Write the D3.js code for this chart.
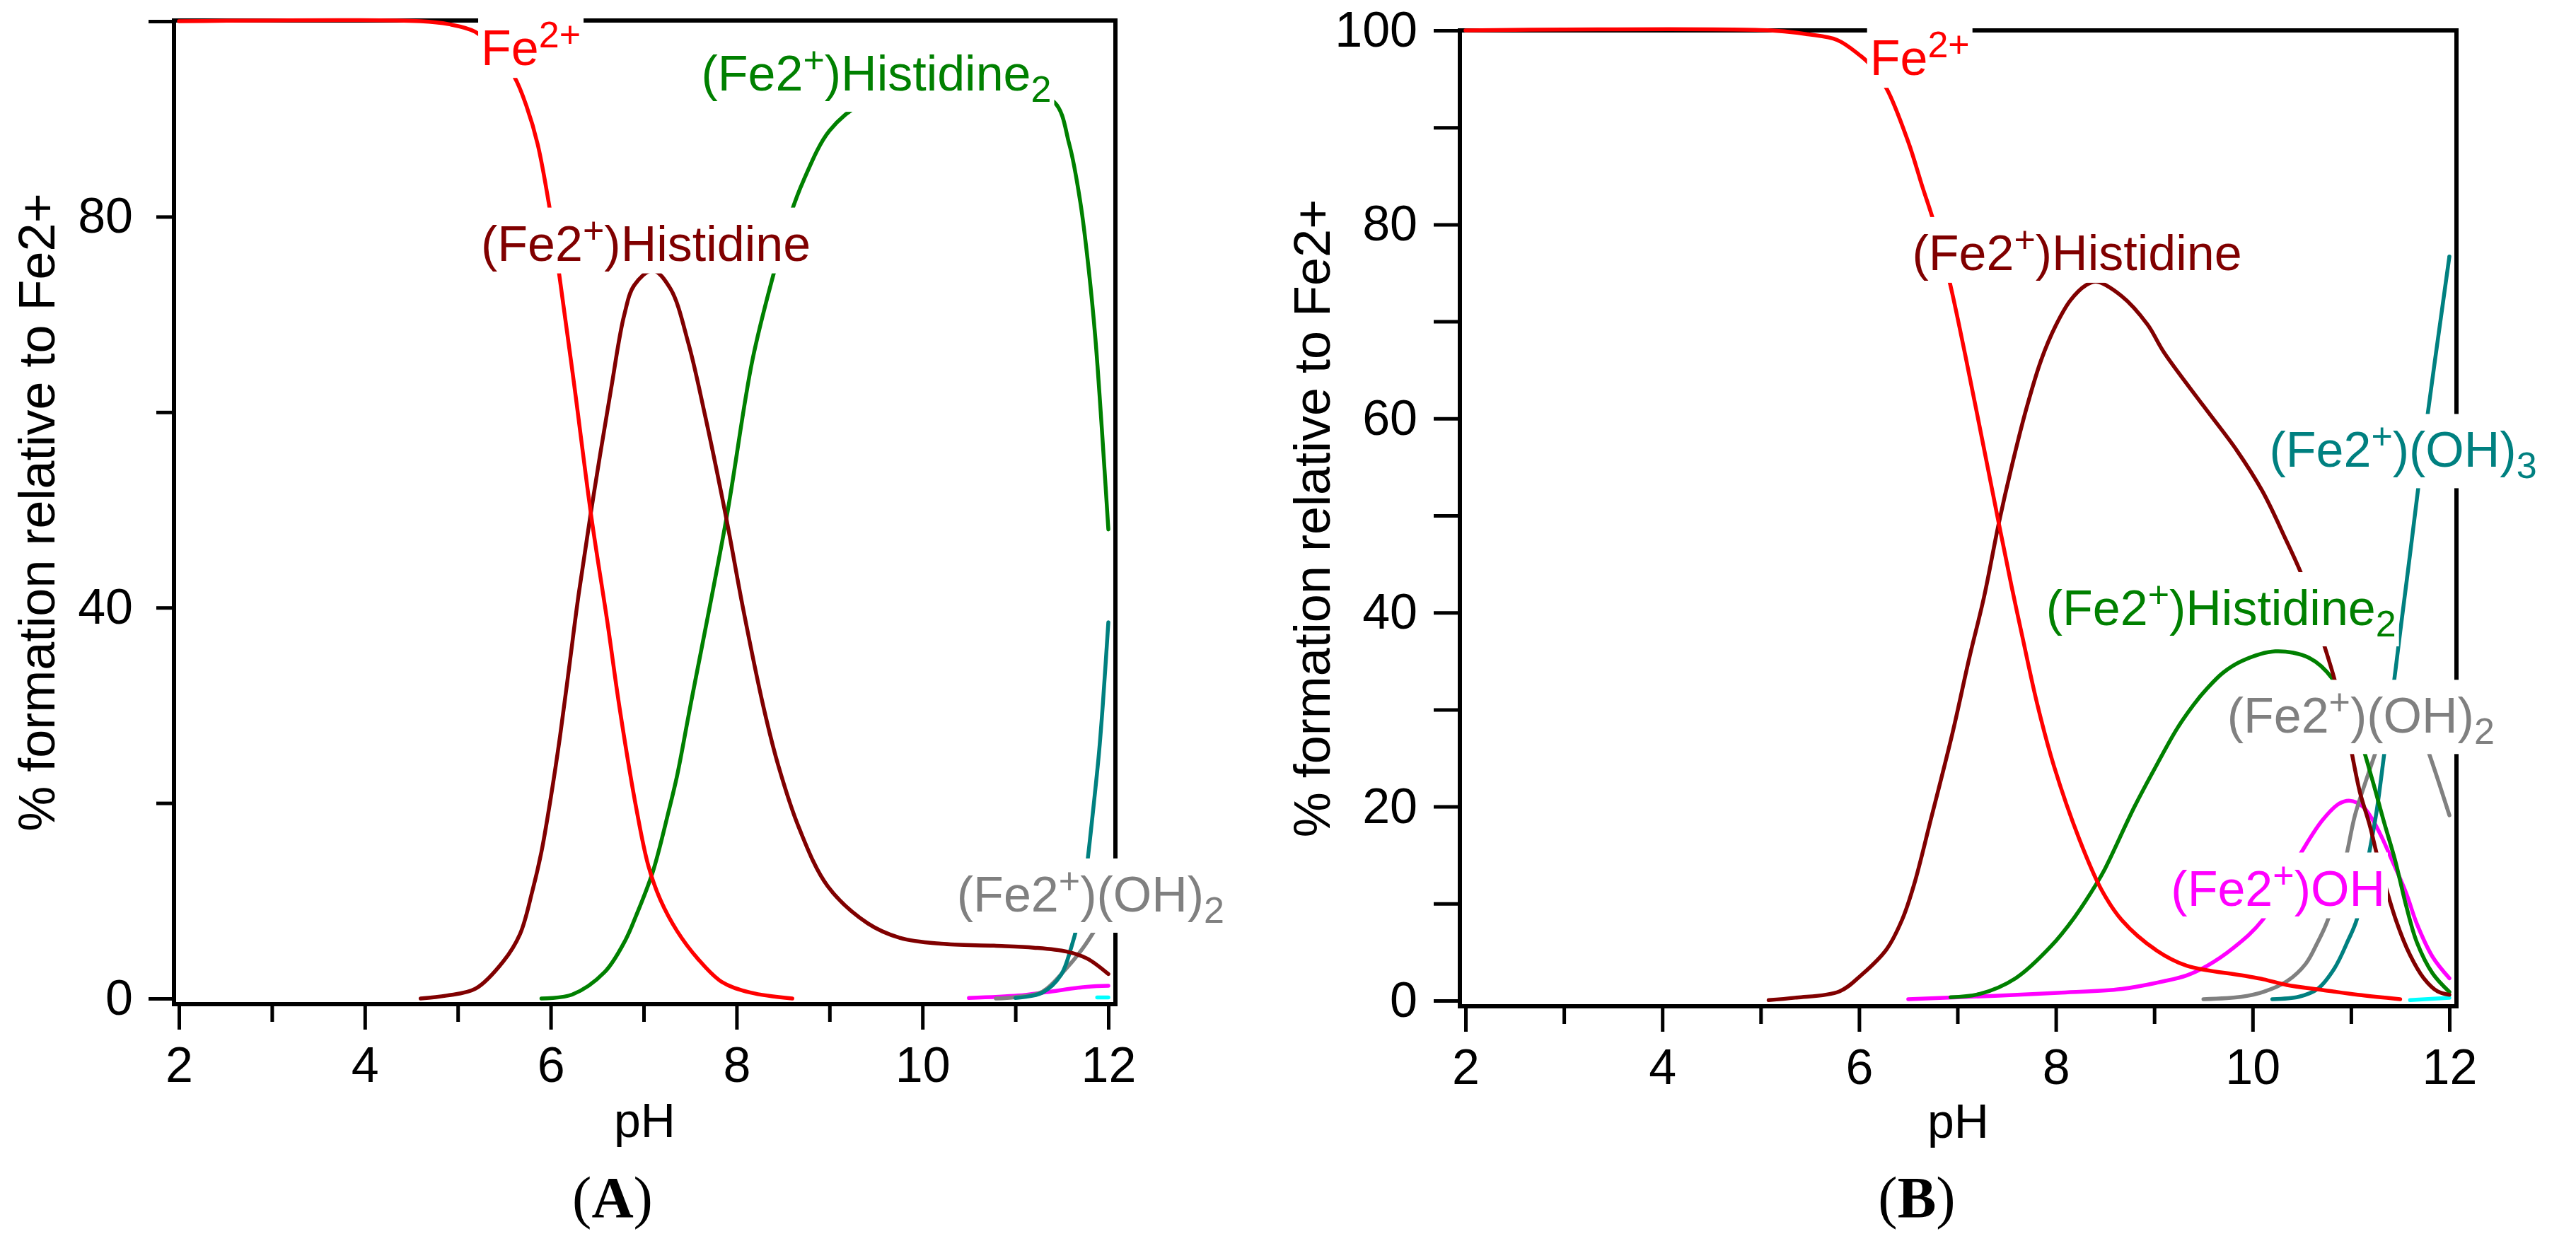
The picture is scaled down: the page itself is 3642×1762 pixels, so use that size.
<!DOCTYPE html>
<html>
<head>
<meta charset="utf-8">
<script src="https://cdn.jsdelivr.net/npm/d3@7"></script>
<style>
  body { margin: 0; background: #ffffff; }
</style>
</head>
<body>
<div id="chart"></div>
<script>
// Colours (Igor-style species colours)
var red = "#FF0000";
var maroon = "#800000";
var green = "#008000";
var teal = "#008080";
var grey = "#808080";
var magenta = "#FF00FF";
var cyan = "#00FFFF";

// ---- Data, panel A : [pH, % formation] ----
const feA = [[2,100],[4.6,100],[4.9,99.7],[5.19,98.9],[5.4,97.0],[5.61,94.3],[5.74,91.3],[5.86,87.4],[6.0,80.2],
  [6.09,74.2],[6.25,63],[6.44,49.1],[6.61,38.5],[6.74,29.8],[6.92,19.5],[7.05,13.6],[7.18,10.1],[7.36,6.9],
  [7.58,4.1],[7.84,1.7],[8.15,0.6],[8.6,0]];
const hisA = [[4.6,0],[4.88,0.3],[5.19,1.0],[5.49,3.8],[5.67,6.6],[5.8,10.9],[5.9,15],[6.0,20.5],[6.1,26.8],
  [6.2,34],[6.3,41.3],[6.46,51.4],[6.65,62.4],[6.79,69.9],[6.9,73],[7.1,74.5],[7.29,72.6],[7.48,67.1],[7.66,59.7],
  [7.89,49.1],[8.07,39.9],[8.29,29.8],[8.45,23.8],[8.67,17.5],[8.98,11.5],[9.41,7.7],[9.76,6.2],[10.2,5.6],
  [10.77,5.4],[11.2,5.2],[11.55,4.8],[11.77,4.1],[12.0,2.5]];
const his2A = [[5.9,0],[6.23,0.4],[6.58,2.7],[6.8,5.9],[6.92,8.5],[7.1,13],[7.27,19.2],[7.36,22.8],[7.5,29.8],
  [7.89,49.1],[8.17,65.3],[8.4,74.2],[8.58,80.2],[8.72,83.7],[9.0,88.8],[9.37,91.7],[9.8,92.8],[10.4,93.2],
  [11.0,93],[11.42,91.7],[11.58,87.4],[11.7,81.4],[11.79,74.5],[11.86,67.6],[11.93,58.3],[12.0,48]];
const oh3A = [[11.0,0.05],[11.29,0.6],[11.49,2.4],[11.6,5.2],[11.71,9.4],[11.77,13.6],[11.85,20.5],[11.9,25.2],
  [11.94,30],[12.0,38.5]];
const oh2A = [[10.79,0],[11.0,0.15],[11.29,0.7],[11.55,3.1],[11.73,5.2],[11.9,7.7],[12.0,9.3]];
const ohA = [[10.5,0.05],[11.03,0.3],[11.33,0.65],[11.77,1.2],[12.0,1.3]];
const cyanA = [[11.88,0.1],[12.0,0.1]];

// ---- Data, panel B ----
const feB = [[2,100],[5.1,100],[5.48,99.6],[5.78,99.0],[6.0,97.5],[6.1,96.6],[6.28,94.0],[6.5,88.5],[6.64,84.0],
  [6.77,79.9],[6.92,74.1],[7.08,66.5],[7.25,57.9],[7.42,49.2],[7.55,42.7],[7.66,37.5],[7.81,30.6],[7.98,24.2],
  [8.24,16.6],[8.46,11.5],[8.67,8.3],[9.02,5.2],[9.33,3.6],[9.89,2.6],[10.11,2.2],[10.35,1.6],[10.71,1.1],
  [11.07,0.6],[11.5,0.15]];
const hisB = [[5.08,0.05],[5.35,0.3],[5.8,0.95],[6.03,2.7],[6.28,5.3],[6.44,8.4],[6.56,12.0],[6.73,18.7],[6.95,27.6],
  [7.12,35.3],[7.27,41.6],[7.42,49.2],[7.55,55.0],[7.7,61.0],[7.85,66.0],[8.0,69.6],[8.15,72.2],[8.3,73.7],
  [8.41,74.1],[8.67,72.6],[8.93,69.7],[9.1,66.8],[9.5,61.3],[9.84,56.7],[10.1,52.5],[10.32,47.9],[10.53,43.1],
  [10.71,37.2],[10.83,33.2],[10.96,27.9],[11.09,21.5],[11.19,18.1],[11.28,14.4],[11.46,8.2],[11.6,4.7],
  [11.74,2.3],[11.88,0.95],[12.0,0.6]];
const his2B = [[6.93,0.35],[7.23,0.7],[7.59,2.3],[7.95,5.6],[8.19,8.6],[8.41,12.0],[8.5,13.6],[8.8,20.0],[9.02,24.2],
  [9.23,28.0],[9.4,30.5],[9.54,32.2],[9.7,33.8],[9.89,35.0],[10.23,36.0],[10.58,35.3],[10.81,33.2],[11.06,27.9],
  [11.21,23.0],[11.33,18.6],[11.45,14.4],[11.56,9.8],[11.67,6.0],[11.83,2.8],[12.0,0.9]];
const oh3B = [[10.2,0.15],[10.47,0.4],[10.66,1.2],[10.83,3.3],[10.97,6.2],[11.06,8.4],[11.17,14.4],[11.26,19.5],
  [11.35,26.4],[11.43,32.3],[11.5,38],[11.6,46],[11.74,57.5],[12.0,76.7]];
const oh2B = [[9.5,0.15],[9.89,0.4],[10.11,0.9],[10.35,2.0],[10.54,3.8],[10.66,6.0],[10.76,8.2],[10.94,14.4],
  [11.04,19.1],[11.17,23.2],[11.28,26.4],[11.4,29.3],[11.52,30.3],[11.64,29.3],[11.76,26.4],[12.0,19.1]];
const ohB = [[6.5,0.15],[7.38,0.5],[8.02,0.8],[8.67,1.2],[9.1,2.0],[9.33,2.6],[9.54,3.6],[9.8,5.4],[10.1,8.3],
  [10.49,15.2],[10.71,18.6],[10.88,20.3],[10.99,20.6],[11.12,20.0],[11.21,18.8],[11.31,16.9],[11.42,14.4],
  [11.56,11.1],[11.67,7.9],[11.83,4.5],[12.0,2.3]];
const cyanB = [[11.6,0.05],[12.0,0.3]];

// tick values / labels
const xTicks = [2,3,4,5,6,7,8,9,10,11,12];
const xTickLabels = [2,4,6,8,10,12];
const yTicksA = [0,20,40,60,80,100];
const yTickLabelsA = [0,40,80];
const yTicksB = [0,10,20,30,40,50,60,70,80,90,100];
const yTickLabelsB = [0,20,40,60,80,100];

// species labels: [text, "sup"/"sub"/""] pieces
const lblFe = [["Fe",""],["2+","sup"]];
const lblHis = [["(Fe2",""],["+","sup"],[")Histidine",""]];
const lblHis2 = [["(Fe2",""],["+","sup"],[")Histidine",""],["2","sub"]];
const lblOH2 = [["(Fe2",""],["+","sup"],[")(OH)",""],["2","sub"]];
const lblOH3 = [["(Fe2",""],["+","sup"],[")(OH)",""],["3","sub"]];
const lblOH = [["(Fe2",""],["+","sup"],[")OH",""]];

const sansFont = "'Liberation Sans', Arial, sans-serif";
const serifFont = "'Liberation Serif', 'Times New Roman', serif";

const svg = d3.select("#chart")
    .append("svg")
    .attr("width", 3642)
    .attr("height", 1762)
    .style("background", "#ffffff");

const panels = [
  {
    frame: { l: 246, t: 29, r: 1577, b: 1420 },
    xRange: [253, 1567], yRange: [1412, 30],
    yTicks: yTicksA, yLabels: yTickLabelsA, yTickLen: 25, yPad: 33, longEnds: true,
    xLabelY: 1608, tagX: 866, tagY: 1721, tag: "A", titleX: 77,
    series: [
      { d: cyanA, c: cyan }, { d: ohA, c: magenta }, { d: oh2A, c: grey }, { d: oh3A, c: teal },
      { d: his2A, c: green }, { d: hisA, c: maroon }, { d: feA, c: red }
    ],
    labels: [
      { parts: lblFe, c: red, ph: 5.25, v: 95.5 },
      { parts: lblHis, c: maroon, ph: 5.25, v: 75.5 },
      { parts: lblHis2, c: green, ph: 7.62, v: 92.9 },
      { parts: lblOH2, c: grey, ph: 10.37, v: 8.9 }
    ]
  },
  {
    frame: { l: 2064, t: 43, r: 3473, b: 1423 },
    xRange: [2072, 3463], yRange: [1415, 43],
    yTicks: yTicksB, yLabels: yTickLabelsB, yTickLen: 37, yPad: 23, longEnds: false,
    xLabelY: 1609, tagX: 2710, tagY: 1721, tag: "B", titleX: 1880,
    series: [
      { d: cyanB, c: cyan }, { d: ohB, c: magenta }, { d: oh2B, c: grey }, { d: oh3B, c: teal },
      { d: his2B, c: green }, { d: hisB, c: maroon }, { d: feB, c: red }
    ],
    labels: [
      { parts: lblFe, c: red, ph: 6.11, v: 95.4 },
      { parts: lblHis, c: maroon, ph: 6.54, v: 75.3 },
      { parts: lblOH3, c: teal, ph: 10.17, v: 55.0 },
      { parts: lblHis2, c: green, ph: 7.9, v: 38.7 },
      { parts: lblOH2, c: grey, ph: 9.74, v: 27.6 },
      { parts: lblOH, c: magenta, ph: 9.17, v: 9.8 }
    ]
  }
];

panels.forEach(drawPanel);

function drawPanel(p) {
  const g = svg.append("g");
  const f = p.frame;
  const x = d3.scaleLinear().domain([2, 12]).range(p.xRange);
  const y = d3.scaleLinear().domain([0, 100]).range(p.yRange);

  // Y axis ticks
  const yAx = g.append("g")
      .attr("transform", `translate(${f.l},0)`)
      .call(d3.axisLeft(y).tickValues(p.yTicks).tickSize(p.yTickLen).tickPadding(p.yPad)
        .tickFormat(d => p.yLabels.includes(d) ? d : ""));
  yAx.select(".domain").remove();
  yAx.selectAll(".tick line")
      .attr("stroke", "#000").attr("stroke-width", 5)
      .attr("x2", d => (p.longEnds && (d === 0 || d === 100)) ? -36 : -p.yTickLen);
  yAx.selectAll(".tick text")
      .attr("font-size", 70).attr("font-family", sansFont).attr("fill", "#000");

  // X axis ticks
  const xAx = g.append("g")
      .attr("transform", `translate(0,${f.b})`)
      .call(d3.axisBottom(x).tickValues(xTicks).tickSize(36).tickPadding(24)
        .tickFormat(d => xTickLabels.includes(d) ? d : ""));
  xAx.select(".domain").remove();
  xAx.selectAll(".tick line")
      .attr("stroke", "#000").attr("stroke-width", 5)
      .attr("y2", d => xTickLabels.includes(d) ? 36 : 25);
  xAx.selectAll(".tick text")
      .attr("font-size", 70).attr("font-family", sansFont).attr("fill", "#000");

  // Frame
  g.append("rect")
      .attr("x", f.l).attr("y", f.t)
      .attr("width", f.r - f.l).attr("height", f.b - f.t)
      .attr("fill", "none").attr("stroke", "#000").attr("stroke-width", 6);

  // Axis titles
  g.append("text")
      .text("pH")
      .attr("x", (f.l + f.r) / 2).attr("y", p.xLabelY)
      .attr("text-anchor", "middle")
      .attr("font-size", 68).attr("font-family", sansFont);
  g.append("text")
      .text("% formation relative to Fe2+")
      .attr("transform", `translate(${p.titleX},${(f.t + f.b) / 2}) rotate(-90)`)
      .attr("text-anchor", "middle")
      .attr("font-size", 72).attr("font-family", sansFont);
  g.append("text")
      .attr("x", p.tagX).attr("y", p.tagY)
      .attr("text-anchor", "middle")
      .attr("font-size", 82).attr("font-family", serifFont)
      .html(`(<tspan font-weight="bold">${p.tag}</tspan>)`);

  // Species curves
  const line = d3.line()
      .x(d => x(d[0]))
      .y(d => y(d[1]))
      .curve(d3.curveCatmullRom.alpha(0.5));
  p.series.forEach(s => {
    g.append("path")
        .datum(s.d)
        .attr("d", line)
        .attr("fill", "none")
        .attr("stroke", s.c)
        .attr("stroke-width", 5.5)
        .attr("stroke-linejoin", "round")
        .attr("stroke-linecap", "round");
  });

  // Species tags with opaque white background
  p.labels.forEach(l => {
    const lg = g.append("g");
    const t = lg.append("text")
        .attr("x", x(l.ph)).attr("y", y(l.v))
        .attr("font-size", 70).attr("font-family", sansFont)
        .attr("fill", l.c);
    let shift = 0;
    l.parts.forEach(pc => {
      const ts = t.append("tspan").text(pc[0]);
      let target = 0;
      if (pc[1] === "sup") target = -25;
      if (pc[1] === "sub") target = 16;
      ts.attr("dy", target - shift);
      if (pc[1]) ts.attr("font-size", 52);
      shift = target;
    });
    const bb = t.node().getBBox();
    lg.insert("rect", "text")
        .attr("x", bb.x - 4).attr("y", bb.y - 3)
        .attr("width", bb.width + 8).attr("height", bb.height + 6)
        .attr("fill", "#ffffff");
  });
}
</script>
</body>
</html>
